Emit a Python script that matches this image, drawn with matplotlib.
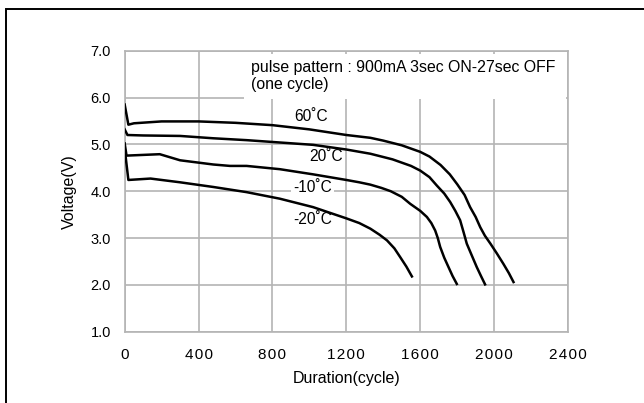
import matplotlib
matplotlib.use('Agg')
import matplotlib.pyplot as plt
from matplotlib.patches import Rectangle

plt.rcParams['font.family'] = ['Liberation Sans', 'DejaVu Sans']

# Discharge curves (duration in cycles, voltage in V)
c60_x = [0, 20, 50, 200, 400, 600, 800, 1000, 1200, 1330, 1400, 1500, 1600, 1650,
         1710, 1760, 1800, 1840, 1870, 1900, 1925, 1950, 1980, 2015, 2050, 2080, 2105]
c60_v = [5.85, 5.42, 5.45, 5.49, 5.49, 5.46, 5.41, 5.32, 5.20, 5.14, 5.08, 4.98, 4.84, 4.74,
         4.56, 4.36, 4.15, 3.92, 3.66, 3.45, 3.23, 3.05, 2.88, 2.67, 2.45, 2.25, 2.06]

c20_x = [0, 15, 100, 300, 480, 660, 840, 1020, 1200, 1330, 1450, 1550, 1600, 1650,
         1690, 1730, 1762, 1790, 1816, 1835, 1852, 1880, 1906, 1930, 1951]
c20_v = [5.32, 5.20, 5.19, 5.18, 5.13, 5.09, 5.04, 4.99, 4.89, 4.80, 4.68, 4.54, 4.44, 4.30,
         4.12, 3.95, 3.77, 3.58, 3.38, 3.12, 2.88, 2.62, 2.38, 2.18, 2.01]

cm10_x = [0, 10, 190, 300, 480, 570, 660, 840, 1020, 1200, 1270, 1330, 1390, 1440, 1500,
          1546, 1600, 1636, 1660, 1681, 1695, 1708, 1730, 1753, 1775, 1798]
cm10_v = [5.02, 4.76, 4.79, 4.66, 4.57, 4.54, 4.54, 4.47, 4.36, 4.24, 4.19, 4.14, 4.07, 4.00, 3.88,
          3.73, 3.58, 3.45, 3.32, 3.16, 3.00, 2.81, 2.58, 2.38, 2.19, 2.02]

cm20_x = [0, 20, 140, 300, 480, 660, 840, 1020, 1200, 1270, 1330, 1380, 1420, 1460, 1492,
          1525, 1555]
cm20_v = [4.91, 4.24, 4.27, 4.19, 4.09, 3.98, 3.84, 3.66, 3.42, 3.32, 3.20, 3.07, 2.95, 2.78,
          2.59, 2.39, 2.18]

curve_labels = ['60˚C', '20˚C', '-10˚C', '-20˚C']
label_x = [1010, 1090, 1018, 1018]
label_v = [5.60, 4.75, 4.08, 3.40]

x_ticks = [0, 400, 800, 1200, 1600, 2000, 2400]
y_ticks = [1.0, 2.0, 3.0, 4.0, 5.0, 6.0, 7.0]

fig = plt.figure(figsize=(6.44, 4.03), dpi=100)

# outer frame (runs off the right and bottom edges)
fig.patches.append(Rectangle((6 / 644, -0.1), 1.2, 1.1 - 9 / 403,
                             transform=fig.transFigure, fill=False,
                             edgecolor='black', linewidth=1.4))

ax = fig.add_axes([0.1936, 0.1769, 0.6884, 0.6973])
grey = '#b4b4b4'
ax.set_xlim(0, 2400)
ax.set_ylim(1.0, 7.0)
ax.set_xticks(x_ticks)
ax.set_yticks(y_ticks)
ax.set_xticklabels(['\u200a'.join(str(t)) for t in x_ticks])
ax.set_yticklabels(['%.1f' % t for t in y_ticks])
ax.grid(True, color=grey, linewidth=1.2)
ax.set_axisbelow(True)
for s in ax.spines.values():
    s.set_color(grey)
    s.set_linewidth(1.2)
ax.tick_params(length=0, colors='black')
ax.tick_params(axis='y', pad=10, labelsize=10.5)
ax.tick_params(axis='x', pad=12, labelsize=11)

# white box behind the note
ax.add_patch(Rectangle((645, 5.97), 1745, 0.97, facecolor='white',
                       edgecolor='none', zorder=1.5))
ax.text(686, 6.64, 'pulse pattern : 900mA 3sec ON-27sec OFF', fontsize=11.4,
        ha='left', va='center', zorder=3)
ax.text(686, 6.27, '(one cycle)', fontsize=11.4, ha='left', va='center', zorder=3)

for xs, vs in [(c60_x, c60_v), (c20_x, c20_v), (cm10_x, cm10_v), (cm20_x, cm20_v)]:
    ax.plot(xs, vs, color='black', linewidth=1.8, zorder=4)

for i, lab in enumerate(curve_labels):
    bbox = None
    if lab == '-10˚C':
        bbox = dict(facecolor='white', edgecolor='none', pad=1.5)
    ax.text(label_x[i], label_v[i], lab, fontsize=11.2, ha='center', va='center',
            zorder=3, bbox=bbox)

ax.set_xlabel('Duration(cycle)', fontsize=11.5, labelpad=6)
ax.set_ylabel('Voltage(V)', fontsize=11.5, labelpad=10)

fig.savefig('out.png', dpi=100)
plt.close(fig)
